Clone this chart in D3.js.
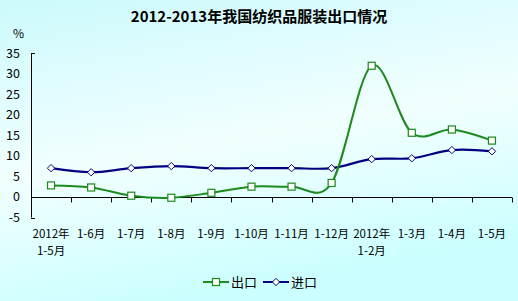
<!DOCTYPE html>
<html>
<head>
<meta charset="utf-8">
<script src="https://cdn.jsdelivr.net/npm/d3@7"></script>
<style>
  body { margin: 0; padding: 0; }
  svg { display: block; }
</style>
</head>
<body>
<div id="chart"></div>
<script>

var categories = ["2012年\n1-5月", "1-6月", "1-7月", "1-8月", "1-9月", "1-10月", "1-11月", "1-12月", "2012年\n1-2月", "1-3月", "1-4月", "1-5月"];
var exportValues = [2.8, 2.3, 0.3, -0.2, 1.0, 2.5, 2.5, 3.4, 31.9, 15.6, 16.4, 13.7];
var importValues = [7.0, 6.0, 7.0, 7.5, 7.0, 7.0, 7.0, 7.0, 9.2, 9.4, 11.4, 11.1];
var yTicks = [-5, 0, 5, 10, 15, 20, 25, 30, 35];

var width = 518, height = 301;
var font = "'Noto Sans CJK SC', sans-serif";
var green = "#1c8a1c", navy = "#000080";

var svg = d3.select("#chart").append("svg")
    .attr("width", width)
    .attr("height", height);

// background gradient
var grad = svg.append("defs").append("linearGradient")
    .attr("id", "bg")
    .attr("x1", 0).attr("y1", 0).attr("x2", 0.3).attr("y2", 1);
grad.append("stop").attr("offset", "0%").attr("stop-color", "#ccfafc");
grad.append("stop").attr("offset", "55%").attr("stop-color", "#f2ffff");
grad.append("stop").attr("offset", "100%").attr("stop-color", "#ccffff");

svg.append("rect")
    .attr("width", width)
    .attr("height", height)
    .attr("fill", "url(#bg)");

svg.append("text")
    .attr("x", 259)
    .attr("y", 22)
    .attr("text-anchor", "middle")
    .attr("font-family", font)
    .attr("font-size", 15)
    .attr("font-weight", "bold")
    .text("2012-2013年我国纺织品服装出口情况");

svg.append("text")
    .attr("x", 13)
    .attr("y", 38)
    .attr("font-family", font)
    .attr("font-size", 12)
    .text("%");

var x = d3.scaleBand().domain(d3.range(categories.length)).range([31, 512]);
var y = d3.scaleLinear().domain([-5, 35]).range([217.5, 53]);

// y axis
svg.append("line")
    .attr("x1", 31.5).attr("x2", 31.5)
    .attr("y1", y(35)).attr("y2", y(-5))
    .attr("stroke", "#000");
svg.selectAll(".ystub").data([35, -5]).enter().append("line")
    .attr("x1", 31).attr("x2", 35)
    .attr("y1", function(d) { return Math.round(y(d)) + 0.5; })
    .attr("y2", function(d) { return Math.round(y(d)) + 0.5; })
    .attr("stroke", "#000");

svg.selectAll(".ylab").data(yTicks).enter().append("text")
    .attr("x", 20)
    .attr("y", function(d) { return y(d) + 4.5; })
    .attr("text-anchor", "end")
    .attr("font-family", font)
    .attr("font-size", 12.5)
    .text(function(d) { return d; });

// x axis at zero
var y0 = Math.round(y(0)) + 0.5;
svg.append("line")
    .attr("x1", 31).attr("x2", 512)
    .attr("y1", y0).attr("y2", y0)
    .attr("stroke", "#000");
svg.selectAll(".xtick").data(d3.range(1, categories.length + 1)).enter().append("line")
    .attr("x1", function(d) { return Math.round(x(0) + d * x.bandwidth()) + 0.5; })
    .attr("x2", function(d) { return Math.round(x(0) + d * x.bandwidth()) + 0.5; })
    .attr("y1", y0).attr("y2", y0 + 5)
    .attr("stroke", "#000");

var xl = svg.selectAll(".xlab").data(categories).enter().append("text")
    .attr("text-anchor", "middle")
    .attr("font-family", font)
    .attr("font-size", 11.5);
xl.each(function(d, i) {
    var parts = d.split("\n");
    var t = d3.select(this);
    parts.forEach(function(p, j) {
        t.append("tspan")
            .attr("x", x(i) + x.bandwidth() / 2)
            .attr("y", 238 + j * 17)
            .text(p);
    });
});

var cx = function(d, i) { return x(i) + x.bandwidth() / 2; };
var line = d3.line()
    .x(cx)
    .y(function(d) { return y(d); })
    .curve(d3.curveCatmullRom.alpha(0));

svg.append("path").datum(importValues)
    .attr("d", line)
    .attr("fill", "none")
    .attr("stroke", navy)
    .attr("stroke-width", 2.2);

svg.append("path").datum(exportValues)
    .attr("d", line)
    .attr("fill", "none")
    .attr("stroke", green)
    .attr("stroke-width", 2);

var diamond = d3.symbol().type(d3.symbolDiamond2).size(34);
svg.selectAll(".imp").data(importValues).enter().append("path")
    .attr("d", diamond)
    .attr("transform", function(d, i) { return "translate(" + cx(d, i) + "," + y(d) + ")"; })
    .attr("fill", "#fff")
    .attr("stroke", navy)
    .attr("stroke-width", 1);

svg.selectAll(".exp").data(exportValues).enter().append("rect")
    .attr("x", function(d, i) { return cx(d, i) - 3.5; })
    .attr("y", function(d) { return y(d) - 3.5; })
    .attr("width", 7).attr("height", 7)
    .attr("fill", "#fff")
    .attr("stroke", green)
    .attr("stroke-width", 1.2);

// legend
var leg = svg.append("g");
leg.append("line").attr("x1", 203).attr("x2", 229).attr("y1", 282).attr("y2", 282)
    .attr("stroke", green).attr("stroke-width", 2);
leg.append("rect").attr("x", 212.5).attr("y", 278.5).attr("width", 7).attr("height", 7)
    .attr("fill", "#fff").attr("stroke", green).attr("stroke-width", 1.2);
leg.append("text").attr("x", 231).attr("y", 287).attr("font-family", font).attr("font-size", 13).text("出口");
leg.append("line").attr("x1", 263).attr("x2", 289).attr("y1", 282).attr("y2", 282)
    .attr("stroke", navy).attr("stroke-width", 2);
leg.append("path").attr("d", diamond)
    .attr("transform", "translate(276,282)")
    .attr("fill", "#fff").attr("stroke", navy);
leg.append("text").attr("x", 291).attr("y", 287).attr("font-family", font).attr("font-size", 13).text("进口");

</script>
</body>
</html>
